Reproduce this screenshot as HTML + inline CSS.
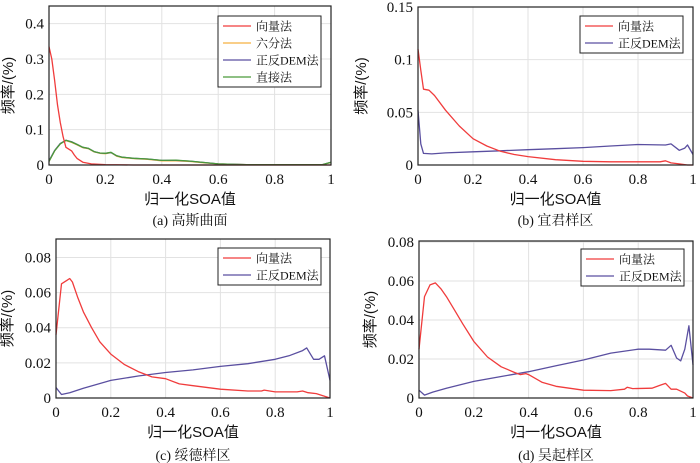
<!DOCTYPE html>
<html><head><meta charset="utf-8">
<style>
html,body{margin:0;padding:0;background:#fff;}
svg{display:block;font-family:"Liberation Serif","Noto Serif CJK SC",serif;}
</style></head>
<body>
<svg id="fig" width="700" height="463" viewBox="0 0 700 463" xmlns="http://www.w3.org/2000/svg"></svg>
<script>
// ---- data ----
const aRedX=[0,0.01,0.02,0.03,0.04,0.05,0.06,0.07,0.08,0.09,0.1,0.12,0.15,0.2,0.3,1];
const aRedY=[0.335,0.3,0.24,0.17,0.12,0.08,0.05,0.045,0.04,0.028,0.018,0.008,0.003,0.001,0,0];
const aGrnX=[0,0.02,0.04,0.06,0.08,0.1,0.12,0.14,0.16,0.18,0.2,0.22,0.24,0.26,0.3,0.35,0.4,0.45,0.5,0.55,0.6,0.7,0.8,0.9,0.97,1];
const aGrnY=[0.01,0.04,0.06,0.07,0.065,0.058,0.05,0.047,0.038,0.034,0.033,0.036,0.026,0.022,0.019,0.017,0.013,0.014,0.011,0.007,0.003,0.001,0.001,0.001,0.001,0.008];
const aOrgY=[0.01,0.04,0.06,0.069,0.064,0.057,0.049,0.046,0.037,0.033,0.032,0.035,0.025,0.021,0.018,0.016,0.012,0.012,0.010,0.006,0.003,0.001,0.001,0.001,0.001,0.007];
const aBluY=[0.012,0.041,0.061,0.07,0.066,0.058,0.05,0.047,0.038,0.034,0.033,0.035,0.026,0.022,0.019,0.017,0.013,0.013,0.011,0.007,0.003,0.001,0.001,0.001,0.001,0.008];
const bRedX=[0,0.01,0.02,0.04,0.06,0.1,0.15,0.2,0.25,0.3,0.35,0.4,0.5,0.6,0.7,0.8,0.88,0.9,0.92,0.95,0.98,1];
const bRedY=[0.11,0.09,0.072,0.071,0.066,0.052,0.037,0.025,0.018,0.013,0.01,0.008,0.005,0.0035,0.003,0.003,0.003,0.004,0.002,0.001,0,0];
const bBluX=[0,0.01,0.02,0.05,0.1,0.2,0.3,0.4,0.5,0.6,0.7,0.8,0.9,0.92,0.95,0.97,0.98,1];
const bBluY=[0.052,0.02,0.011,0.0105,0.0115,0.0125,0.0135,0.0145,0.0155,0.0165,0.018,0.0195,0.019,0.02,0.014,0.016,0.019,0.01];
const cRedX=[0,0.02,0.04,0.05,0.06,0.08,0.1,0.13,0.16,0.2,0.25,0.3,0.35,0.4,0.45,0.5,0.6,0.7,0.75,0.76,0.8,0.88,0.9,0.92,0.95,0.98,1];
const cRedY=[0.036,0.065,0.067,0.068,0.066,0.057,0.049,0.04,0.032,0.025,0.019,0.015,0.012,0.011,0.008,0.007,0.005,0.004,0.004,0.0045,0.0035,0.0035,0.004,0.003,0.0025,0.001,0];
const cBluX=[0,0.01,0.02,0.05,0.1,0.2,0.3,0.4,0.5,0.6,0.7,0.8,0.85,0.9,0.915,0.94,0.96,0.98,1];
const cBluY=[0.006,0.004,0.002,0.003,0.0055,0.01,0.0125,0.0145,0.016,0.018,0.0195,0.022,0.024,0.027,0.0285,0.022,0.022,0.024,0.01];
const dRedX=[0,0.02,0.04,0.06,0.08,0.1,0.13,0.16,0.2,0.25,0.3,0.35,0.37,0.39,0.4,0.45,0.5,0.6,0.7,0.75,0.76,0.78,0.85,0.88,0.9,0.92,0.94,0.97,0.98,1];
const dRedY=[0.025,0.052,0.058,0.059,0.056,0.052,0.045,0.038,0.029,0.021,0.016,0.013,0.012,0.0125,0.012,0.008,0.006,0.004,0.0038,0.0045,0.0055,0.0048,0.005,0.0065,0.0075,0.0045,0.0045,0.0025,0.001,0];
const dBluX=[0,0.02,0.05,0.1,0.2,0.3,0.4,0.5,0.6,0.7,0.8,0.84,0.9,0.92,0.94,0.955,0.97,0.985,1];
const dBluY=[0.004,0.0015,0.003,0.005,0.0085,0.011,0.0135,0.0165,0.0195,0.023,0.025,0.025,0.0245,0.027,0.0205,0.019,0.025,0.037,0.017];
const xTicks=[0,0.2,0.4,0.6,0.8,1];
const xTickLabels=["0","0.2","0.4","0.6","0.8","1"];
const aYTicks=[0,0.1,0.2,0.3,0.4], aYLabels=["0","0.1","0.2","0.3","0.4"];
const bYTicks=[0,0.05,0.1,0.15], bYLabels=["0","0.05","0.1","0.15"];
const cYTicks=[0,0.02,0.04,0.06,0.08], cYLabels=["0","0.02","0.04","0.06","0.08"];
const dYTicks=[0,0.02,0.04,0.06,0.08], dYLabels=["0","0.02","0.04","0.06","0.08"];
const captions=["(a) 高斯曲面","(b) 宜君样区","(c) 绥德样区","(d) 吴起样区"];

const NS="http://www.w3.org/2000/svg";
const svg=document.getElementById('fig');
function el(tag,attrs,parent,text){const e=document.createElementNS(NS,tag);for(const k in attrs)e.setAttribute(k,attrs[k]);if(text!==undefined)e.textContent=text;(parent||svg).appendChild(e);return e;}

const RED="#f03c3c",ORG="#f5b041",BLU="#5a4fa0",GRN="#4a9a3a";

function panel(id,L,R,T,B,ymax,yt,yl,series,legend,lg,cap,xlabY,capY){
  const g=el('g',{});
  
  
  const sx=v=>L+(R-L)*v, sy=v=>B-(B-T)*v/ymax;
  // grid
  xTicks.forEach(t=>{const l=el('line',{x1:sx(t),x2:sx(t),y1:T,y2:B,stroke:'#e2e2e2','stroke-width':1},g);
    });
  yt.forEach(t=>{const l=el('line',{x1:L,x2:R,y1:sy(t),y2:sy(t),stroke:'#e2e2e2','stroke-width':1},g);
    });
  // series
  series.forEach(s=>{
    const d=s.x.map((x,i)=>(i?'L':'M')+sx(x).toFixed(1)+','+sy(s.y[i]).toFixed(1)).join('');
    const p=el('path',{d:d,fill:'none',stroke:s.c,'stroke-width':1.3,'stroke-linejoin':'round'},g);
    
  });
  // frame
  const fr=el('rect',{x:L,y:T,width:R-L,height:B-T,fill:'none',stroke:'#222','stroke-width':1.2},g);
  
  // tick labels
  xTicks.forEach((t,i)=>{const tx=el('text',{x:sx(t),y:B+19,'font-size':15,'text-anchor':'middle',fill:'#111'},g,xTickLabels[i]);
    });
  yt.forEach((t,i)=>{const tx=el('text',{x:L-5,y:sy(t)+5,'font-size':15,'text-anchor':'end',fill:'#111'},g,yl[i]);
    });
  // axis titles
  const xt=el('text',{x:(L+R)/2,y:xlabY,'font-size':15,'text-anchor':'middle',fill:'#111','font-family':'"Liberation Sans","Noto Sans CJK SC",sans-serif'},g,'归一化SOA值');
  
  const yc=(T+B)/2, yx=L-(id==='a'?36:id==='b'?52:44);
  const yti=el('text',{x:yx,y:yc,'font-size':15,'text-anchor':'middle',fill:'#111',transform:'rotate(-90 '+yx+' '+yc+')','font-family':'"Liberation Sans","Noto Sans CJK SC",sans-serif'},g,'频率/(%)');
  
  const ct=el('text',{x:(L+R)/2,y:capY,'font-size':14,'text-anchor':'middle',fill:'#111'},g,cap);
  
  // legend
  const lgG=el('g',{},g);
  
  el('rect',{x:lg[0],y:lg[1],width:lg[2],height:legend.length*17+3,fill:'#fff',stroke:'#222','stroke-width':1},lgG);
  legend.forEach((e,i)=>{
    const yy=lg[1]+10+i*17;
    const ent=el('g',{},lgG);
    
    el('line',{x1:lg[0]+5,x2:lg[0]+33,y1:yy,y2:yy,stroke:e.c,'stroke-width':1.3},ent);
    el('text',{x:lg[0]+38,y:yy+4.5,'font-size':12,fill:'#111'},ent,e.n);
  });
}

panel('a',49,331,6,165,0.45,aYTicks,aYLabels,
 [{x:aGrnX,y:aOrgY,c:ORG,n:'orange'},{x:aGrnX,y:aBluY,c:BLU,n:'blue'},{x:aGrnX,y:aGrnY,c:GRN,n:'green'},{x:aRedX,y:aRedY,c:RED,n:'red'}],
 [{n:'向量法',c:RED},{n:'六分法',c:ORG},{n:'正反DEM法',c:BLU},{n:'直接法',c:GRN}],
 [218,16,103],captions[0],204,225);
panel('b',418,693,7,165,0.15,bYTicks,bYLabels,
 [{x:bBluX,y:bBluY,c:BLU,n:'blue'},{x:bRedX,y:bRedY,c:RED,n:'red'}],
 [{n:'向量法',c:RED},{n:'正反DEM法',c:BLU}],
 [580,16,103],captions[1],204,225);
panel('c',56,330,239,398,0.0905,cYTicks,cYLabels,
 [{x:cBluX,y:cBluY,c:BLU,n:'blue'},{x:cRedX,y:cRedY,c:RED,n:'red'}],
 [{n:'向量法',c:RED},{n:'正反DEM法',c:BLU}],
 [218,248,103],captions[2],437,460);
panel('d',419,693,241,398,0.0805,dYTicks,dYLabels,
 [{x:dBluX,y:dBluY,c:BLU,n:'blue'},{x:dRedX,y:dRedY,c:RED,n:'red'}],
 [{n:'向量法',c:RED},{n:'正反DEM法',c:BLU}],
 [581,249,103],captions[3],437,460);
</script>
</body></html>
